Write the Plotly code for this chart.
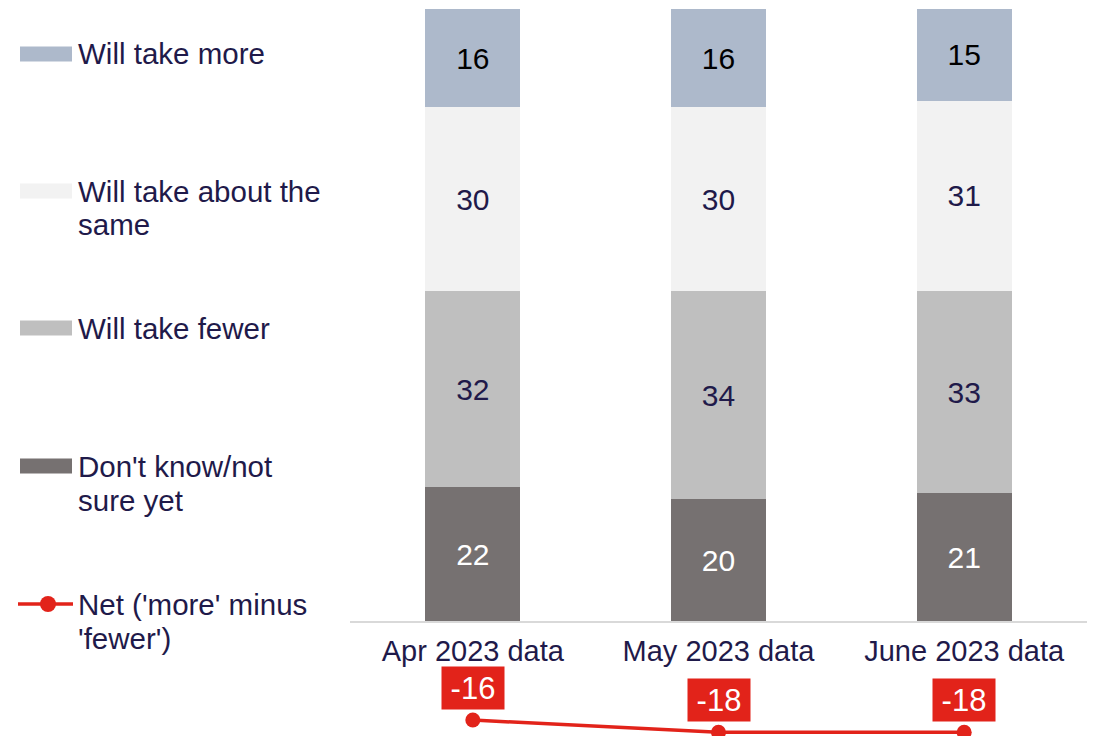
import plotly.graph_objects as go

categories = ["Apr 2023 data", "May 2023 data", "June 2023 data"]
dont_know = [22, 20, 21]
fewer = [32, 34, 33]
same = [30, 30, 31]
more = [16, 16, 15]
net = [-16, -18, -18]

legend_labels = [
    ["Will take more"],
    ["Will take about the", "same"],
    ["Will take fewer"],
    ["Don't know/not", "sure yet"],
    ["Net ('more' minus", "'fewer')"],
]

C_MORE = "#adb9cb"
C_SAME = "#f2f2f2"
C_FEWER = "#bfbfbf"
C_DK = "#767171"
C_RED = "#e2231a"
NAVY = "#1f1a4a"
FONT = "Arial, Liberation Sans, sans-serif"

OFF = 8  # page body margin
W, H = 1099 - OFF, 736 - OFF
ML, MR, MT, MB = 350 - OFF, 12, 9 - OFF, 0
PW, PH = W - ML - MR, H - MT - MB


def px(x):
    return (x - OFF - ML) / PW


def py(y):
    return (H - MB - (y - OFF)) / PH


fig = go.Figure()
series = [
    (dont_know, C_DK, "white"),
    (fewer, C_FEWER, NAVY),
    (same, C_SAME, NAVY),
    (more, C_MORE, "black"),
]
names = ["Don't know/not sure yet", "Will take fewer", "Will take about the same", "Will take more"]
for (vals, col, tcol), nm in zip(series, names):
    fig.add_trace(go.Bar(
        x=categories, y=vals, name=nm, marker=dict(color=col, line=dict(width=0)),
        text=[str(v) for v in vals], textposition="inside", insidetextanchor="middle",
        textangle=0, textfont=dict(family=FONT, size=30, color=tcol),
        constraintext="none", showlegend=False, hoverinfo="skip",
    ))

fig.add_trace(go.Scatter(
    x=categories, y=net, mode="lines+markers", name="Net",
    line=dict(color=C_RED, width=3.5), marker=dict(color=C_RED, size=15),
    cliponaxis=False, showlegend=False,
))

annotations = []
for c, v in zip(categories, net):
    annotations.append(dict(
        x=c, y=v, xref="x", yref="y", text=str(v), showarrow=False,
        yshift=32, bgcolor=C_RED, width=60, height=40,
        font=dict(family=FONT, size=31, color="white"),
    ))

# custom legend
legend_y = [54, 191, 328, 466, 604]
legend_colors = [C_MORE, C_SAME, C_FEWER, C_DK]
shapes = []
for i, (lines, y0) in enumerate(zip(legend_labels, legend_y)):
    for j, t in enumerate(lines):
        annotations.append(dict(
            x=px(76), y=py(y0 + 34 * j), xref="paper", yref="paper", text=t,
            showarrow=False, xanchor="left", yanchor="middle",
            font=dict(family=FONT, size=29.5, color=NAVY),
        ))
    if i < 4:
        shapes.append(dict(
            type="rect", xref="paper", yref="paper",
            x0=px(20), x1=px(72), y0=py(y0 - 7.5), y1=py(y0 + 7.5),
            fillcolor=legend_colors[i], line=dict(width=0),
        ))
    else:
        shapes.append(dict(
            type="line", xref="paper", yref="paper",
            x0=px(18), x1=px(73), y0=py(y0), y1=py(y0),
            line=dict(color=C_RED, width=3.5),
        ))
        shapes.append(dict(
            type="circle", xref="paper", yref="paper",
            x0=px(48 - 8), x1=px(48 + 8), y0=py(y0 - 8), y1=py(y0 + 8),
            fillcolor=C_RED, line=dict(width=0),
        ))

zero_pos = py(622)

fig.update_layout(
    width=W, height=H,
    margin=dict(l=ML, r=MR, t=MT, b=MB, pad=0),
    barmode="stack", bargap=0.613,
    plot_bgcolor="white", paper_bgcolor="white",
    showlegend=False,
    annotations=annotations, shapes=shapes,
    font=dict(family=FONT, color=NAVY),
    xaxis=dict(
        type="category", range=[-0.5, 2.5], anchor="free", position=zero_pos,
        showline=True, linecolor="#d9d9d9", linewidth=2, ticks="",
        showgrid=False, zeroline=False,
        tickfont=dict(family=FONT, size=29, color=NAVY),
        ticklabelstandoff=3,
    ),
    yaxis=dict(
        range=[-18.6, 100], visible=False, showgrid=False, zeroline=False,
        fixedrange=True,
    ),
)

fig.write_html("out.html")
